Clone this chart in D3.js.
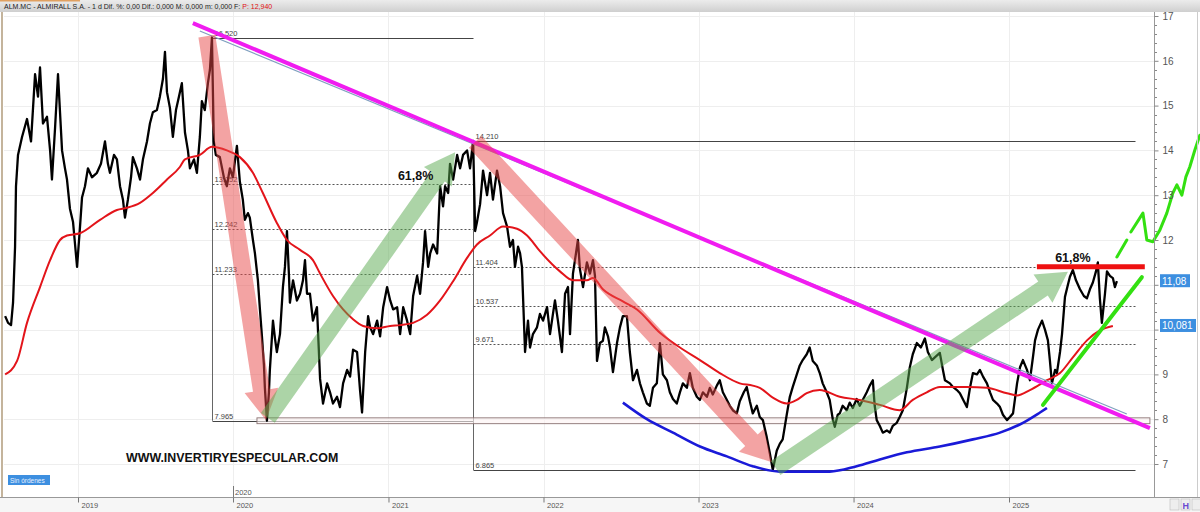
<!DOCTYPE html>
<html><head><meta charset="utf-8">
<script src="https://cdn.jsdelivr.net/npm/d3@7"></script>
<style>body{margin:0;background:#fff;overflow:hidden}svg{display:block;font-family:"Liberation Sans",Arial,sans-serif}</style>
</head><body><svg id="c" width="1200" height="512"></svg>
<script>
// ---- DATA (decimal year, price) ----
const price = [[2018.530,10.3],[2018.549,10.15],[2018.568,10.1],[2018.581,10.6],[2018.594,11.85],[2018.600,13.2],[2018.613,13.9],[2018.639,14.3],[2018.671,14.7],[2018.697,14.2],[2018.723,15.7],[2018.742,15.2],[2018.755,15.85],[2018.774,14.6],[2018.800,14.75],[2018.820,14.0],[2018.832,13.35],[2018.852,14.5],[2018.871,15.7],[2018.897,14.0],[2018.916,13.6],[2018.929,13.35],[2018.948,12.7],[2018.968,12.4],[2018.981,11.9],[2018.994,11.4],[2019.013,12.3],[2019.026,12.95],[2019.045,13.2],[2019.064,13.6],[2019.090,13.4],[2019.122,13.5],[2019.148,13.7],[2019.174,14.2],[2019.193,13.7],[2019.206,13.5],[2019.232,13.9],[2019.251,13.8],[2019.271,13.2],[2019.290,12.9],[2019.303,12.5],[2019.322,12.9],[2019.342,13.4],[2019.354,13.85],[2019.380,13.6],[2019.400,13.35],[2019.419,13.8],[2019.445,14.2],[2019.464,14.6],[2019.483,14.85],[2019.509,14.9],[2019.528,15.2],[2019.548,15.6],[2019.561,16.2],[2019.574,15.3],[2019.593,14.95],[2019.612,14.3],[2019.632,14.9],[2019.651,15.2],[2019.670,15.5],[2019.690,14.4],[2019.709,14.0],[2019.722,13.6],[2019.748,13.8],[2019.767,13.5],[2019.786,14.3],[2019.799,15.1],[2019.818,14.9],[2019.838,15.5],[2019.851,15.8],[2019.864,16.52],[2019.876,14.2],[2019.889,13.9],[2019.915,13.85],[2019.941,13.4],[2019.960,13.2],[2019.980,13.6],[2019.999,13.4],[2020.025,14.1],[2020.044,13.3],[2020.063,12.9],[2020.076,12.45],[2020.096,12.6],[2020.108,12.5],[2020.128,12.0],[2020.141,11.7],[2020.160,11.1],[2020.173,10.45],[2020.186,9.85],[2020.199,9.2],[2020.205,8.7],[2020.218,7.965],[2020.231,8.6],[2020.237,9.1],[2020.257,10.2],[2020.270,9.8],[2020.282,9.5],[2020.302,9.9],[2020.321,10.95],[2020.334,11.4],[2020.347,12.2],[2020.360,11.2],[2020.366,10.6],[2020.386,11.1],[2020.411,10.65],[2020.431,10.8],[2020.450,11.1],[2020.463,11.55],[2020.476,10.8],[2020.495,10.8],[2020.514,10.2],[2020.540,10.5],[2020.560,8.9],[2020.579,8.35],[2020.605,8.8],[2020.624,8.6],[2020.643,8.35],[2020.669,8.5],[2020.688,8.27],[2020.708,8.8],[2020.734,9.1],[2020.753,8.95],[2020.772,9.55],[2020.798,9.5],[2020.817,8.65],[2020.830,8.15],[2020.850,9.5],[2020.869,10.3],[2020.882,10.05],[2020.901,9.9],[2020.927,10.2],[2020.946,9.85],[2020.966,10.5],[2020.991,10.95],[2021.011,10.65],[2021.030,10.45],[2021.056,10.5],[2021.075,9.9],[2021.095,10.5],[2021.120,10.2],[2021.140,9.9],[2021.159,10.75],[2021.185,11.2],[2021.204,10.8],[2021.223,11.5],[2021.236,12.2],[2021.256,11.4],[2021.269,11.7],[2021.288,11.9],[2021.314,11.7],[2021.333,13.2],[2021.352,12.75],[2021.365,13.2],[2021.385,13.05],[2021.397,13.7],[2021.417,13.35],[2021.443,13.9],[2021.462,13.6],[2021.481,13.9],[2021.507,14.0],[2021.526,13.6],[2021.546,14.21],[2021.559,12.2],[2021.571,12.4],[2021.591,12.8],[2021.610,13.55],[2021.636,13.0],[2021.655,13.5],[2021.674,12.9],[2021.700,13.55],[2021.720,13.2],[2021.739,12.6],[2021.765,12.3],[2021.784,11.85],[2021.803,12.0],[2021.816,11.4],[2021.836,11.85],[2021.849,11.7],[2021.861,11.4],[2021.881,9.5],[2021.900,10.2],[2021.913,9.6],[2021.932,9.9],[2021.958,10.05],[2021.977,10.35],[2021.997,10.2],[2022.023,10.5],[2022.042,9.9],[2022.061,10.35],[2022.074,10.65],[2022.093,10.2],[2022.119,9.5],[2022.139,10.8],[2022.158,10.95],[2022.171,9.9],[2022.190,11.25],[2022.203,11.55],[2022.222,12.0],[2022.235,11.35],[2022.255,10.95],[2022.280,11.5],[2022.300,11.25],[2022.319,11.55],[2022.332,11.2],[2022.345,9.3],[2022.364,9.7],[2022.383,9.75],[2022.396,10.05],[2022.416,9.85],[2022.429,9.6],[2022.448,9.05],[2022.474,9.7],[2022.493,10.05],[2022.512,10.3],[2022.538,10.3],[2022.557,9.5],[2022.577,8.87],[2022.603,9.1],[2022.622,8.8],[2022.641,8.6],[2022.667,8.35],[2022.686,8.3],[2022.706,8.7],[2022.731,8.8],[2022.751,9.7],[2022.770,9.0],[2022.796,8.87],[2022.815,8.6],[2022.835,8.45],[2022.860,8.35],[2022.880,8.6],[2022.899,8.8],[2022.925,8.7],[2022.944,9.03],[2022.963,8.7],[2022.989,8.5],[2023.009,8.43],[2023.028,8.6],[2023.054,8.5],[2023.073,8.7],[2023.092,8.55],[2023.118,8.75],[2023.137,8.87],[2023.157,8.6],[2023.183,8.43],[2023.202,8.3],[2023.221,8.2],[2023.247,8.13],[2023.266,8.4],[2023.292,8.6],[2023.311,8.72],[2023.331,8.4],[2023.350,8.13],[2023.376,8.3],[2023.395,8.05],[2023.415,7.98],[2023.440,7.6],[2023.460,7.24],[2023.479,6.87],[2023.505,7.3],[2023.524,7.45],[2023.543,7.55],[2023.569,8.1],[2023.589,8.5],[2023.608,8.72],[2023.634,9.0],[2023.653,9.2],[2023.672,9.32],[2023.698,9.45],[2023.717,9.6],[2023.737,9.3],[2023.763,9.2],[2023.782,9.03],[2023.801,8.8],[2023.827,8.6],[2023.846,8.43],[2023.866,8.0],[2023.879,7.83],[2023.898,8.1],[2023.911,8.13],[2023.930,8.3],[2023.956,8.2],[2023.975,8.37],[2023.995,8.25],[2024.020,8.45],[2024.040,8.3],[2024.059,8.43],[2024.085,8.6],[2024.104,8.75],[2024.124,8.87],[2024.136,8.3],[2024.149,7.98],[2024.169,7.85],[2024.188,7.7],[2024.214,7.75],[2024.233,7.7],[2024.252,7.85],[2024.278,7.92],[2024.297,8.05],[2024.317,8.2],[2024.343,8.7],[2024.362,9.16],[2024.381,9.45],[2024.407,9.7],[2024.433,9.6],[2024.459,9.8],[2024.478,9.5],[2024.504,9.32],[2024.530,9.4],[2024.555,9.48],[2024.575,9.1],[2024.588,8.87],[2024.620,8.8],[2024.639,8.72],[2024.665,8.65],[2024.684,8.58],[2024.710,8.4],[2024.729,8.27],[2024.749,8.7],[2024.768,9.03],[2024.794,9.0],[2024.813,9.1],[2024.833,8.95],[2024.858,8.8],[2024.878,8.6],[2024.897,8.43],[2024.923,8.35],[2024.942,8.27],[2024.961,8.1],[2024.987,7.98],[2025.006,8.05],[2025.026,8.13],[2025.052,8.8],[2025.071,9.16],[2025.090,9.32],[2025.116,9.1],[2025.135,8.87],[2025.155,9.4],[2025.168,9.76],[2025.187,10.0],[2025.213,10.2],[2025.232,10.0],[2025.251,9.76],[2025.264,9.3],[2025.277,8.8],[2025.297,9.1],[2025.309,9.03],[2025.329,9.5],[2025.342,9.9],[2025.361,10.73],[2025.380,11.0],[2025.393,11.18],[2025.412,11.33],[2025.432,11.1],[2025.458,10.9],[2025.483,10.75],[2025.503,10.7],[2025.522,10.9],[2025.541,11.05],[2025.561,11.3],[2025.573,11.5],[2025.586,10.7],[2025.599,10.15],[2025.619,10.8],[2025.632,11.3],[2025.651,11.2],[2025.670,11.15],[2025.683,10.95],[2025.696,11.08]];

const movingAvg = [[2018.530,9.0],[2018.607,9.3],[2018.671,10.15],[2018.755,10.95],[2018.820,11.55],[2018.884,12.0],[2018.929,12.1],[2019.013,12.15],[2019.142,12.45],[2019.251,12.67],[2019.316,12.72],[2019.400,12.83],[2019.483,13.05],[2019.574,13.35],[2019.657,13.63],[2019.690,13.8],[2019.786,13.9],[2019.864,14.08],[2019.960,14.0],[2020.044,13.85],[2020.128,13.5],[2020.192,13.05],[2020.282,12.38],[2020.347,12.0],[2020.431,11.78],[2020.514,11.55],[2020.560,11.25],[2020.643,10.75],[2020.708,10.45],[2020.772,10.23],[2020.837,10.08],[2020.927,10.03],[2021.011,10.08],[2021.075,10.1],[2021.159,10.15],[2021.249,10.33],[2021.333,10.65],[2021.417,11.08],[2021.507,11.6],[2021.571,11.9],[2021.655,12.1],[2021.739,12.3],[2021.829,12.25],[2021.894,12.1],[2021.977,11.75],[2022.106,11.3],[2022.190,11.1],[2022.280,11.1],[2022.319,11.15],[2022.383,10.9],[2022.512,10.63],[2022.603,10.45],[2022.751,9.93],[2022.880,9.6],[2023.009,9.32],[2023.137,9.03],[2023.266,8.8],[2023.350,8.75],[2023.395,8.7],[2023.479,8.48],[2023.569,8.35],[2023.634,8.43],[2023.698,8.58],[2023.782,8.65],[2023.911,8.5],[2024.040,8.43],[2024.169,8.32],[2024.297,8.2],[2024.381,8.43],[2024.471,8.6],[2024.555,8.72],[2024.729,8.72],[2024.858,8.7],[2024.987,8.58],[2025.052,8.53],[2025.135,8.65],[2025.245,8.87],[2025.329,9.03],[2025.412,9.38],[2025.503,9.76],[2025.586,9.98],[2025.670,10.08]];

const bowlCurve = [[2022.512,8.37],[2022.667,8.0],[2022.835,7.7],[2023.009,7.39],[2023.183,7.17],[2023.350,6.95],[2023.524,6.83],[2023.698,6.83],[2023.846,6.83],[2024.020,6.95],[2024.169,7.1],[2024.343,7.26],[2024.555,7.39],[2024.768,7.55],[2024.942,7.7],[2025.090,7.92],[2025.200,8.15],[2025.245,8.25]];

const fib1Span = [2019.864, 2021.546];
const fib1Levels = [16.520, 13.252, 12.242, 11.233, 7.965];
const fib2Span = [2021.546, 2025.812];
const fib2Levels = [14.210, 11.404, 10.537, 9.671, 6.865];

const supportBand = {t: [2020.154, 2025.909], v: [7.90, 8.03]};
const trendLine = [[2019.741,16.84],[2025.909,7.80]];
const trendLineOld = [[2019.786,16.665],[2025.760,8.116]];
const resistanceLine = [[2025.180,11.404],[2025.876,11.404]];
const supportLine = [[2025.219,8.32],[2025.857,11.17]];
const projection1 = [[2025.696,11.62],[2025.760,12.0]];
const projection2 = [[2025.786,12.18],[2025.864,12.60],[2025.889,12.0],[2025.928,11.96],[2025.973,12.22],[2026.018,12.60],[2026.057,13.05],[2026.083,13.23],[2026.115,13.0],[2026.141,13.41],[2026.166,13.63],[2026.199,14.01],[2026.231,14.34]];

const redArrows = [[[2019.831,16.55],[2020.212,7.98]],[[2021.559,14.19],[2023.473,7.04]]];
const greenArrows = [[[2020.224,8.03],[2021.430,13.96]],[[2023.498,6.91],[2025.380,11.29]]];

const pctLabels = [[2021.175,13.33,"61,8%"],[2025.412,11.51,"61,8%"]];
const yearTicks = [2019,2020,2021,2022,2023,2024,2025];
const priceTicks = [7,8,9,10,11,12,13,14,15,16,17];
const lastBoxes = [[11.08,"11,08"],[10.081,"10,081"]];
const headerText = "ALM.MC - ALMIRALL S.A. - 1 d  Dif. %: 0,00  Dif.: 0,000  M: 0,000  m: 0,000  F:";
const headerRed = "P: 12,940";

// ---- SCALES ----
const toDate = t => { const yr = Math.floor(t); const a = Date.UTC(yr,0,1), b = Date.UTC(yr+1,0,1); return new Date(a + (t-yr)*(b-a)); };
const x = d3.scaleTime().domain([new Date(Date.UTC(2019,0,1)), new Date(Date.UTC(2025,0,1))]).range([78,1009]);
const y = d3.scaleLinear().domain([7,17]).range([464,16]);
const X = t => x(toDate(t));
const svg = d3.select("#c");
const line = d3.line().x(d=>X(d[0])).y(d=>y(d[1]));

svg.append("rect").attr("width",1200).attr("height",512).attr("fill","#fff");

// grid
const grid = svg.append("g").attr("stroke","#eeeeee").attr("stroke-width",1);
priceTicks.forEach(v=>grid.append("line").attr("x1",4).attr("x2",1154).attr("y1",Math.round(y(v))+0.5).attr("y2",Math.round(y(v))+0.5));
yearTicks.forEach(yr=>{const px=Math.round(X(yr))+0.5; grid.append("line").attr("x1",px).attr("x2",px).attr("y1",12).attr("y2",497);});

// fib retracements
function fib(span, levels){
  const g = svg.append("g");
  const x0 = Math.round(X(span[0]))+0.5, x1 = Math.round(X(span[1]))+0.5;
  g.append("line").attr("x1",x0).attr("x2",x0).attr("y1",y(levels[0])).attr("y2",y(levels[levels.length-1])).attr("stroke","#666").attr("stroke-width",1);
  levels.forEach((v,i)=>{
    const solid = i===0 || i===levels.length-1;
    const yy = Math.round(y(v))+0.5;
    g.append("line").attr("x1",x0).attr("x2",x1).attr("y1",yy).attr("y2",yy)
      .attr("stroke",solid?"#444":"#555").attr("stroke-width",1).attr("stroke-dasharray",solid?null:"2,2");
    g.append("text").attr("x",x0+2).attr("y",yy-3).attr("font-size",7.5).attr("fill","#444").text(d3.format(".3f")(v));
  });
}
fib(fib1Span, fib1Levels);
fib(fib2Span, fib2Levels);

// support band
svg.append("rect").attr("x",X(supportBand.t[0])).attr("width",X(supportBand.t[1])-X(supportBand.t[0]))
  .attr("y",y(supportBand.v[1])).attr("height",y(supportBand.v[0])-y(supportBand.v[1]))
  .attr("fill","#fdf3f3").attr("fill-opacity",0.6).attr("stroke","#8a7272").attr("stroke-width",0.9);

// price
svg.append("path").attr("d",line(price)).attr("fill","none").attr("stroke","#000").attr("stroke-width",2.3).attr("stroke-linejoin","round");
// moving average
svg.append("path").attr("d",d3.line().x(d=>X(d[0])).y(d=>y(d[1])).curve(d3.curveMonotoneX)(movingAvg)).attr("fill","none").attr("stroke","#e3141a").attr("stroke-width",2);
// bowl
svg.append("path").attr("d",d3.line().x(d=>X(d[0])).y(d=>y(d[1])).curve(d3.curveMonotoneX)(bowlCurve)).attr("fill","none").attr("stroke","#1a1ad8").attr("stroke-width",2.6);
// trend lines
svg.append("path").attr("d",line(trendLineOld)).attr("stroke","#7f9fbf").attr("stroke-width",1.2).attr("fill","none");
svg.append("path").attr("d",line(trendLine)).attr("stroke","#f01cf0").attr("stroke-width",4).attr("fill","none");

// arrows
function arrow(p0,p1,fill){
  const x0=X(p0[0]),y0=y(p0[1]),x1=X(p1[0]),y1=y(p1[1]);
  const dx=x1-x0,dy=y1-y0,L=Math.hypot(dx,dy),ux=dx/L,uy=dy/L,nx=-uy,ny=ux;
  const sw=8.5,hw=17,hl=30;
  const bx=x1-ux*hl,by=y1-uy*hl;
  const pts=[[x0+nx*sw,y0+ny*sw],[bx+nx*sw,by+ny*sw],[bx+nx*hw,by+ny*hw],[x1,y1],[bx-nx*hw,by-ny*hw],[bx-nx*sw,by-ny*sw],[x0-nx*sw,y0-ny*sw]];
  svg.append("polygon").attr("points",pts.map(p=>p.join(",")).join(" ")).attr("fill",fill).attr("opacity",0.5);
}
redArrows.forEach(a=>arrow(a[0],a[1],"#e84848"));
greenArrows.forEach(a=>arrow(a[0],a[1],"#5aaa50"));

// resistance / support / projection
svg.append("path").attr("d",line(resistanceLine)).attr("stroke","#ee1111").attr("stroke-width",5).attr("fill","none");
svg.append("path").attr("d",line(supportLine)).attr("stroke","#33e011").attr("stroke-width",4).attr("fill","none").attr("stroke-linecap","round");
[projection1,projection2].forEach(p=>svg.append("path").attr("d",line(p)).attr("stroke","#33e011").attr("stroke-width",3).attr("fill","none").attr("stroke-linejoin","round").attr("stroke-linecap","round"));

// pct labels
pctLabels.forEach(d=>svg.append("text").attr("x",X(d[0])).attr("y",y(d[1])).attr("text-anchor","middle").attr("font-size",12.5).attr("font-weight","bold").attr("fill","#111").text(d[2]));

// watermark
svg.append("text").attr("x",126).attr("y",462).attr("font-size",12.4).attr("font-weight","bold").attr("fill","#111").text("WWW.INVERTIRYESPECULAR.COM");

// Sin órdenes
svg.append("rect").attr("x",8).attr("y",475).attr("width",42).attr("height",10).attr("fill","#3d8fe0");
svg.append("text").attr("x",10).attr("y",482.5).attr("font-size",6.5).attr("fill","#eaf2ff").text("Sin órdenes");

// right axis area
svg.append("line").attr("x1",1154.5).attr("x2",1154.5).attr("y1",12).attr("y2",497).attr("stroke","#999");
const minor = svg.append("g").attr("stroke","#888");
d3.range(7,17.01,0.2).forEach(v=>{ if(Math.abs(v-Math.round(v))>0.01){ const yy=Math.round(y(v))+0.5; minor.append("line").attr("x1",1155).attr("x2",1157).attr("y1",yy).attr("y2",yy);} });
const covered = new Set(lastBoxes.map(b=>Math.round(b[0])));
const ax = svg.append("g").attr("transform","translate(1154.5,0)").call(d3.axisRight(y).tickValues(priceTicks).tickFormat(v=>covered.has(v)?"":d3.format("d")(v)).tickSize(4).tickSizeOuter(0).tickPadding(4));
ax.select(".domain").remove();
ax.selectAll("line").attr("stroke","#888");
ax.selectAll("text").attr("font-size",10).attr("fill","#555").attr("font-family","'Liberation Sans',Arial,sans-serif");

lastBoxes.forEach(b=>{
  const yy=y(b[0]);
  const w = b[1].length>5?36:30;
  svg.append("rect").attr("x",1160).attr("y",yy-7).attr("width",w).attr("height",13).attr("fill","#3d8fe0");
  svg.append("text").attr("x",1162).attr("y",yy+3.5).attr("font-size",10).attr("fill","#fff").text(b[1]);
});

// bottom axis
svg.append("rect").attr("x",0).attr("y",497).attr("width",1200).attr("height",15).attr("fill","#f6f6f6");
svg.append("line").attr("x1",0).attr("x2",1200).attr("y1",497.5).attr("y2",497.5).attr("stroke","#999");
const bx = svg.append("g").attr("transform","translate(0,497.5)").call(d3.axisBottom(x).tickValues(yearTicks.map(t=>toDate(t))).tickFormat(d3.timeFormat("%Y")).tickSize(5).tickSizeOuter(0));
bx.select(".domain").remove();
bx.selectAll("line").attr("stroke","#777");
bx.selectAll("text").attr("text-anchor","start").attr("x",3).attr("y",5).attr("font-size",7.5).attr("fill","#555").attr("font-family","'Liberation Sans',Arial,sans-serif");
// cursor marker
svg.append("line").attr("x1",X(2020)+0.5).attr("x2",X(2020)+0.5).attr("y1",486).attr("y2",497).attr("stroke","#777");
svg.append("text").attr("x",X(2020)+2).attr("y",495).attr("font-size",7.5).attr("fill","#555").text("2020");

// icons bottom right
[1170,1181,1192].forEach(px=>svg.append("rect").attr("x",px).attr("y",499).attr("width",9).attr("height",11).attr("fill","#eee").attr("stroke","#bbb").attr("stroke-width",0.6));
svg.append("text").attr("x",1182.5).attr("y",508.5).attr("font-size",9).attr("font-weight","bold").attr("fill","#6a4ad0").text("H");

// frame
svg.append("line").attr("x1",2).attr("x2",2).attr("y1",12).attr("y2",497).attr("stroke","#c4b49c").attr("stroke-width",2);
svg.append("line").attr("x1",1197.5).attr("x2",1197.5).attr("y1",12).attr("y2",497).attr("stroke","#ccc");

// header
const defs = svg.append("defs");
const lg = defs.append("linearGradient").attr("id","hg").attr("x1",0).attr("x2",0).attr("y1",0).attr("y2",1);
lg.append("stop").attr("offset","0%").attr("stop-color","#ececec");
lg.append("stop").attr("offset","100%").attr("stop-color","#cfcfcf");
svg.append("rect").attr("x",0).attr("y",0).attr("width",1200).attr("height",12).attr("fill","url(#hg)");
svg.append("rect").attr("x",0).attr("y",0).attr("width",80).attr("height",1.5).attr("fill","#e0a060");
const ht = svg.append("text").attr("x",4).attr("y",9).attr("font-size",7).attr("fill","#222");
ht.append("tspan").text(headerText);
ht.append("tspan").attr("fill","#e01010").text(" " + headerRed);
</script></body></html>
